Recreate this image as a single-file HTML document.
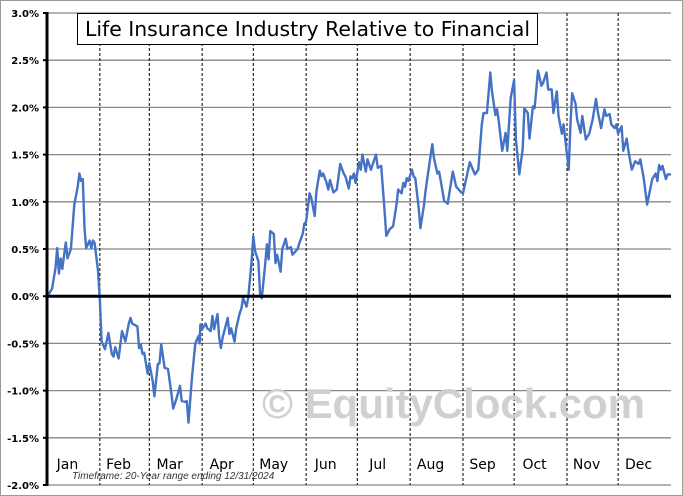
<!DOCTYPE html>
<html><head><meta charset="utf-8"><style>
body{margin:0;background:#fff}
svg{display:block;font-family:"DejaVu Sans","Liberation Sans",sans-serif}
</style></head><body>
<svg id="chart" width="683" height="496" viewBox="0 0 683 496">
<rect x="0.5" y="0.5" width="682" height="495" fill="#fff" stroke="#999"/>
<g id="grid"></g>
<text x="262" y="418" font-size="42" font-weight="bold" fill="#d0d0d0" font-family="Liberation Sans, sans-serif" textLength="383">© EquityClock.com</text>
<g id="months"></g>
<path id="series" fill="none" stroke="#4472c4" stroke-width="2.4" stroke-linejoin="round"/>
<g id="axes"></g>
<text x="72" y="479" font-size="10" font-style="italic" fill="#333" font-family="Liberation Sans, sans-serif">Timeframe: 20-Year range ending 12/31/2024</text>
<rect x="77.5" y="13.5" width="460" height="31" fill="#fff" stroke="#000"/>
<text x="85" y="36" font-size="20" fill="#000" textLength="445" lengthAdjust="spacingAndGlyphs">Life Insurance Industry Relative to Financial</text>
</svg>
<script>
const days=[0,1,3,5,6,7,8,9,11,12,14,16,18,19,20,21,22,23,25,26,27,28,30,31,32,34,36,38,39,40,42,44,46,48,49,50,53,54,55,56,57,59,60,62,63,65,66,67,69,71,73,74,76,78,79,81,82,83,85,87,89,89.5,90,91,93,94,96,97,98,100,101,102,103,106,107,108,110,111,113,114,115,117,118,120,121,122,124,125,126,128,129,130,131,133,134,135,137,138,140,141,143,144,147,148,150,151,152,154,155,157,158,160,161,162,164,165,166,168,170,172,174,175,177,178,179,180,181,183,184,185,187,188,190,193,194,196,197,198,199,201,203,205,206,208,209,210,211,212,214,215,216,218,219,221,222,223,226,227,229,230,233,235,238,240,243,244,248,251,253,255,256,258,260,261,263,264,265,267,269,270,272,274,275,277,279,280,282,283,285,286,288,290,291,293,294,296,297,299,300,302,303,306,307,308,310,311,313,314,316,318,320,322,323,325,327,328,330,331,333,334,335,337,338,340,341,343,345,347,348,350,352,355,357,358,359,360,361,363,364,366];
const values=[0,0.02,0.08,0.30,0.51,0.24,0.40,0.29,0.57,0.40,0.50,0.97,1.16,1.30,1.22,1.24,0.72,0.51,0.59,0.51,0.59,0.56,0.26,-0.05,-0.48,-0.56,-0.39,-0.61,-0.64,-0.54,-0.66,-0.37,-0.48,-0.29,-0.23,-0.29,-0.32,-0.55,-0.51,-0.61,-0.60,-0.82,-0.71,-0.90,-1.06,-0.72,-0.71,-0.51,-0.76,-0.77,-1.04,-1.19,-1.08,-0.95,-1.11,-1.12,-1.11,-1.34,-0.87,-0.50,-0.42,-0.50,-0.30,-0.35,-0.29,-0.34,-0.37,-0.21,-0.35,-0.19,-0.44,-0.55,-0.44,-0.23,-0.40,-0.34,-0.48,-0.34,-0.18,-0.13,-0.02,-0.11,-0.02,0.37,0.64,0.48,0.37,0.02,-0.02,0.34,0.55,0.39,0.69,0.66,0.35,0.44,0.26,0.50,0.61,0.50,0.52,0.44,0.50,0.56,0.66,0.77,0.79,1.09,1.04,0.85,1.11,1.33,1.27,1.30,1.20,1.13,1.23,1.10,1.13,1.40,1.30,1.27,1.14,1.27,1.25,1.30,1.20,1.42,1.34,1.50,1.32,1.45,1.34,1.50,1.36,1.38,1.14,0.90,0.64,0.71,0.74,0.97,1.13,1.09,1.20,1.16,1.25,1.22,1.34,1.27,1.25,0.93,0.72,0.95,1.11,1.24,1.61,1.46,1.30,1.32,1.01,0.98,1.32,1.16,1.10,1.09,1.42,1.29,1.34,1.82,1.94,1.94,2.37,2.17,1.92,1.98,1.85,1.54,1.73,1.54,2.10,2.29,1.66,1.29,1.56,1.99,1.94,1.67,2.01,1.99,2.39,2.23,2.26,2.37,2.19,2.19,1.94,2.17,1.91,1.72,1.82,1.34,1.80,2.15,2.04,1.87,1.73,1.91,1.66,1.72,1.87,2.09,1.96,1.78,1.98,1.91,1.93,1.82,1.78,1.82,1.72,1.80,1.54,1.67,1.54,1.34,1.43,1.40,1.45,1.25,0.97,1.24,1.30,1.22,1.39,1.34,1.38,1.24,1.29,1.29];
const yTicks=[3.0,2.5,2.0,1.5,1.0,0.5,0.0,-0.5,-1.0,-1.5,-2.0];
const monthNames=["Jan","Feb","Mar","Apr","May","Jun","Jul","Aug","Sep","Oct","Nov","Dec"];
const monthStarts=[0,31,60,91,121,152,182,213,244,274,305,335,366];
const X0=47,X1=671,Y0=13,Y1=485;
const x=d=>X0+d/366*(X1-X0);
const y=v=>Y0+(3-v)/5*(Y1-Y0);
const NS="http://www.w3.org/2000/svg";
function mk(t,a,p){const e=document.createElementNS(NS,t);for(const k in a)e.setAttribute(k,a[k]);p.appendChild(e);return e;}
const grid=document.getElementById('grid'),axes=document.getElementById('axes'),months=document.getElementById('months');
yTicks.forEach(t=>{
 if(t!==0){const l=mk('line',{x1:X0,x2:X1,y1:y(t),y2:y(t),stroke:'#888','stroke-width':1.3},grid);
 
 }
 const tx=mk('text',{x:39,y:y(t)+4,'font-size':10,'font-weight':'bold','text-anchor':'end',fill:'#000'},axes);
 tx.textContent=t.toFixed(1)+'%';
 
 
 const tk=mk('line',{x1:X0-4,x2:X0,y1:y(t),y2:y(t),stroke:'#000','stroke-width':2},axes);
 
 
});
monthNames.forEach((m,i)=>{
 if(i>0){const d=mk('line',{x1:x(monthStarts[i]),x2:x(monthStarts[i]),y1:Y0,y2:Y1,stroke:'#000','stroke-width':1,'stroke-dasharray':'3,2'},grid);
 
 }
 const t=mk('text',{x:(x(monthStarts[i])+x(monthStarts[i+1]))/2-6,y:469,'font-size':14,'text-anchor':'middle',fill:'#000'},months);
 t.textContent=m;
 
 
});
const z=mk('line',{x1:X0,x2:X1,y1:y(0),y2:y(0),stroke:'#000','stroke-width':3},axes);


const ya=mk('line',{x1:X0,x2:X0,y1:Y0-1,y2:Y1+1,stroke:'#000','stroke-width':3},axes);


document.getElementById('series').setAttribute('d',days.map((d,i)=>(i?'L':'M')+x(d).toFixed(1)+','+y(values[i]).toFixed(1)).join(''));
</script>
</body></html>
